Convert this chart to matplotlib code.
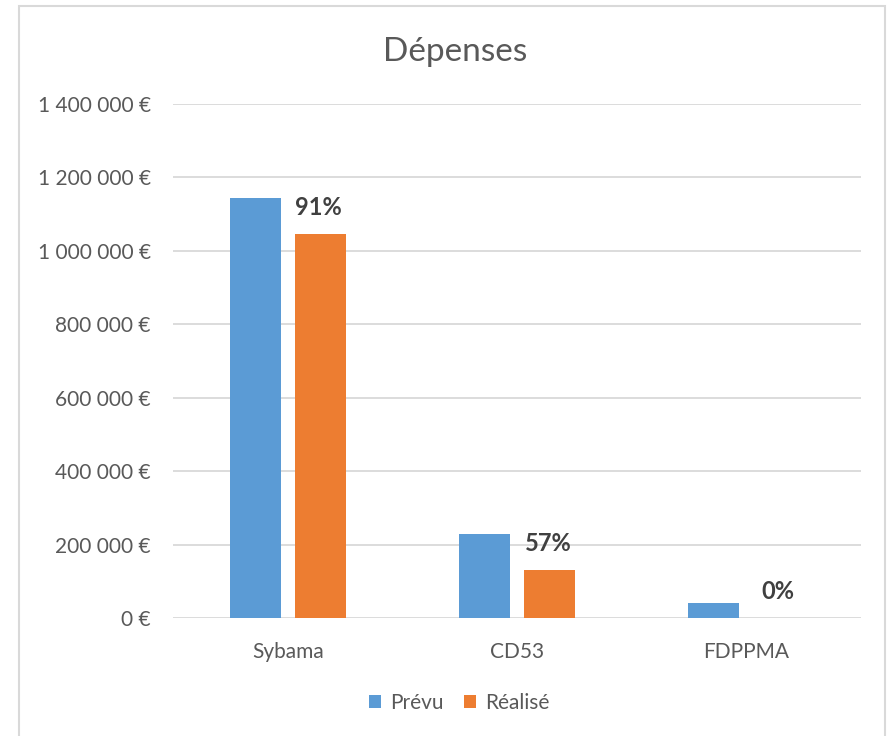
import matplotlib
matplotlib.use("Agg")
import matplotlib.pyplot as plt
from matplotlib.patches import Rectangle
from matplotlib.ticker import FuncFormatter, MultipleLocator
import numpy as np

categories = ["Sybama", "CD53", "FDPPMA"]
prevu = [1145000, 229000, 41000]
realise = [1046000, 130000, 0]
pct_labels = ["91%", "57%", "0%"]
series_names = ["Prévu", "Réalisé"]

BLUE = "#5B9BD5"
ORANGE = "#ED7D31"
GRID = "#D9D9D9"
TXT = "#595959"

plt.rcParams['font.family'] = ['Lato', 'DejaVu Sans']

fig = plt.figure(figsize=(8.91, 7.36), dpi=100)
fig.patch.set_facecolor("white")
W, H = 891, 736
fig.patches.append(Rectangle((19 / W, -0.05), (885 - 19) / W, 1.05 - 6 / H,
                             transform=fig.transFigure, fill=False,
                             edgecolor="#D9D9D9", linewidth=1.5))

ax = fig.add_axes([173 / W, 1 - 618 / H, (861 - 173) / W, (618 - 104) / H])
x = np.arange(len(categories))
bw = 0.223
off = (51 + 14) / 229 / 2
ax.bar(x - off, prevu, bw, color=BLUE, label=series_names[0], zorder=3)
ax.bar(x + off, realise, bw, color=ORANGE, label=series_names[1], zorder=3)

for i, lab in enumerate(pct_labels):
    ax.annotate(lab, (x[i] + off, realise[i]), xytext=(-1, 11), textcoords="offset points",
                ha="center", va="bottom", fontsize=17, fontweight="bold", color="#404040")

ax.set_xlim(-0.5, 2.5)
ax.set_ylim(0, 1400000)
ax.yaxis.set_major_locator(MultipleLocator(200000))

def fmt(v, pos):
    s = f"{int(round(v)):,}".replace(",", " ")
    return f"{s} €"

ax.yaxis.set_major_formatter(FuncFormatter(fmt))
ax.set_xticks(x)
ax.set_xticklabels(categories)
ax.tick_params(axis="both", length=0, labelsize=15, colors=TXT)
ax.tick_params(axis="y", pad=16)
ax.tick_params(axis="x", pad=17)
ax.grid(axis="y", color=GRID, linewidth=1.3, zorder=0)
for s in ax.spines.values():
    s.set_visible(False)

fig.text(455 / W, 1 - 52 / H, "Dépenses", ha="center", va="center", fontsize=24, color=TXT)

leg = fig.legend(loc="center", bbox_to_anchor=(459 / W, 1 - 703 / H), ncol=2, frameon=False,
                 fontsize=15, handlelength=0.6, handleheight=0.6, columnspacing=1.0,
                 handletextpad=0.4)
for t in leg.get_texts():
    t.set_color(TXT)

fig.savefig("out.png", dpi=100)
